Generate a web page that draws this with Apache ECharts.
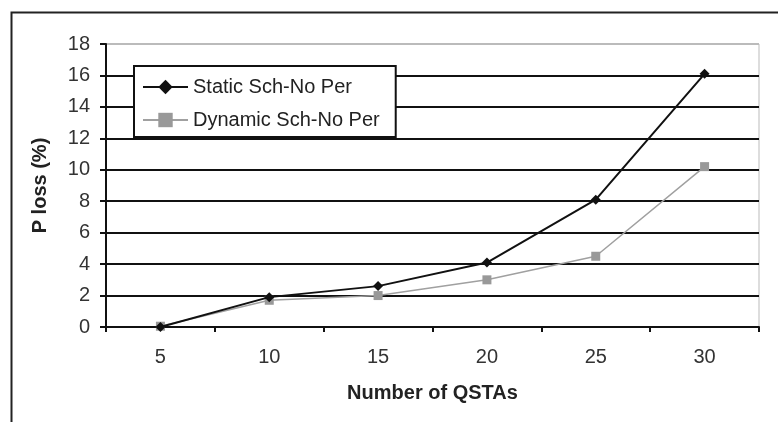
<!DOCTYPE html>
<html>
<head>
<meta charset="utf-8">
<script src="https://cdn.jsdelivr.net/npm/echarts@6/dist/echarts.min.js"></script>
<style>html,body{margin:0;padding:0;background:#fff}#c{width:778px;height:422px}</style>
</head>
<body>
<div id="c"></div>
<script>
const categories = ['5', '10', '15', '20', '25', '30'];
const staticLoss = [0, 1.9, 2.6, 4.1, 8.1, 16.1];
const dynamicLoss = [0.05, 1.7, 2.0, 3.0, 4.5, 10.2];
const seriesNames = ['Static Sch-No Per', 'Dynamic Sch-No Per'];

const font = 'Arial, "Liberation Sans", sans-serif';
const chart = echarts.init(document.getElementById('c'), null, {renderer: 'canvas'});
const gridColors = ['#111','#111','#111','#111','#111','#111','#111','#111','#111','#bbb'];
chart.setOption({
  animation: false,
  backgroundColor: '#fff',
  textStyle: {fontFamily: font},
  graphic: [{
    type: 'rect', left: 9, top: 10, silent: true,
    shape: {width: 820, height: 500},
    style: {fill: 'none', stroke: '#222', lineWidth: 2}
  }],
  grid: {left: 106, right: 19, top: 44, bottom: 95, show: true, borderColor: '#bbb', borderWidth: 1},
  legend: {
    orient: 'vertical', left: 134, top: 66,
    backgroundColor: '#fff',
    borderColor: '#111', borderWidth: 2,
    padding: [11, 16, 7, 8],
    itemWidth: 45, itemHeight: 18, itemGap: 13,
    textStyle: {fontSize: 20, color: '#222', fontFamily: font},
    data: seriesNames
  },
  xAxis: {
    type: 'category', data: categories, boundaryGap: true,
    name: 'Number of QSTAs', nameLocation: 'middle', nameGap: 56,
    nameTextStyle: {fontSize: 20, fontWeight: 'bold', color: '#222', fontFamily: font},
    axisLine: {lineStyle: {color: '#111', width: 2}},
    axisTick: {show: true, length: 5, lineStyle: {color: '#111', width: 2}},
    axisLabel: {fontSize: 20, color: '#333', margin: 20, fontFamily: font}
  },
  yAxis: {
    type: 'value', min: 0, max: 18, interval: 2,
    name: 'P loss (%)', nameLocation: 'middle', nameGap: 56,
    nameTextStyle: {fontSize: 20, fontWeight: 'bold', color: '#222', fontFamily: font},
    axisLine: {show: true, lineStyle: {color: '#111', width: 2}},
    axisTick: {show: true, length: 6, lineStyle: {color: '#111', width: 2}},
    axisLabel: {fontSize: 20, color: '#333', margin: 16, fontFamily: font},
    splitLine: {show: true, lineStyle: {color: gridColors, width: 2}}
  },
  series: [{
    name: seriesNames[0], type: 'line', data: staticLoss,
    symbol: 'diamond', symbolSize: 10, showAllSymbol: true,
    itemStyle: {color: '#111'}, lineStyle: {color: '#111', width: 2}, z: 3
  }, {
    name: seriesNames[1], type: 'line', data: dynamicLoss,
    symbol: 'rect', symbolSize: 9, showAllSymbol: true,
    itemStyle: {color: '#999'}, lineStyle: {color: '#a0a0a0', width: 1.5}, z: 2
  }]
});
</script>
</body>
</html>
